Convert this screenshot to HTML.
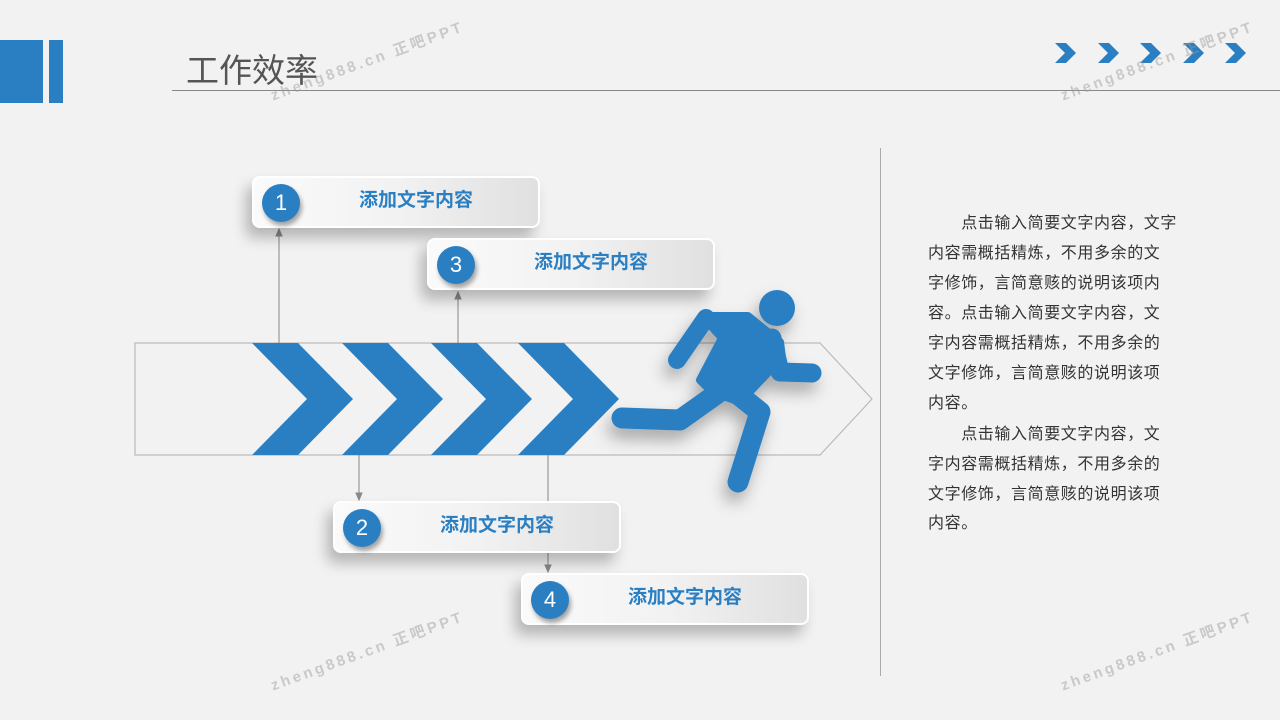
<!DOCTYPE html>
<html><head><meta charset="utf-8"><style>
body{margin:0;width:1280px;height:720px;background:#f2f2f2;position:relative;overflow:hidden;font-family:"Liberation Sans","Noto Sans CJK SC",sans-serif}
.a{position:absolute}
.card{position:absolute;width:288px;height:52px;border-radius:8px;background:linear-gradient(90deg,#fafafa,#f2f2f2 50%,#e0e0e0);border:2px solid #fff;box-shadow:-6px 10px 14px rgba(0,0,0,.25);box-sizing:border-box}
.card .c{position:absolute;left:8px;top:6px;width:38px;height:38px;border-radius:50%;background:#2a7fc3;color:#fff;font-size:22px;line-height:38px;text-align:center;box-shadow:2px 4px 5px rgba(0,0,0,.35)}
.card .t{position:absolute;left:40px;right:0;top:0;line-height:46px;text-align:center;color:#2a7fc3;font-size:19px;font-weight:bold}
.p{position:absolute;left:928px;font-size:16px;letter-spacing:0.6px;color:#333;line-height:30px;white-space:nowrap}
.wm{position:absolute;color:rgba(150,150,150,.45);font-size:15px;letter-spacing:3px;transform:rotate(-20deg);font-weight:bold}
</style></head><body>
<div class="a" style="left:0;top:40px;width:43px;height:63px;background:#2a7fc3"></div>
<div class="a" style="left:49px;top:40px;width:14px;height:63px;background:#2a7fc3"></div>
<div class="a" style="left:186px;top:44px;font-size:33px;color:#555">工作效率</div>
<div class="a" style="left:172px;top:90px;width:1108px;height:1px;background:#888"></div>
<div class="a" style="left:880px;top:148px;width:1px;height:528px;background:#aaa"></div>
<svg class="a" style="left:0;top:0" width="1280" height="720">
<defs><filter id="sh" x="-30%" y="-30%" width="160%" height="160%"><feDropShadow dx="-4" dy="10" stdDeviation="8" flood-opacity=".3"/></filter></defs>
<g fill="#2a7fc3">
<polygon points="1055,43 1066,43 1076,53 1066,63 1055,63 1065,53"/>
<polygon points="1098,43 1109,43 1119,53 1109,63 1098,63 1108,53"/>
<polygon points="1140,43 1151,43 1161,53 1151,63 1140,63 1150,53"/>
<polygon points="1183,43 1194,43 1204,53 1194,63 1183,63 1193,53"/>
<polygon points="1225,43 1236,43 1246,53 1236,63 1225,63 1235,53"/>
</g>
<polygon points="135,343 820,343 872,399 820,455 135,455" fill="none" stroke="#bbb" stroke-width="1.2"/>
<g fill="#2a7fc3">
<polygon points="252,343 298,343 353,399 298,455 252,455 307,399"/>
<polygon points="342,343 388,343 443,399 388,455 342,455 397,399"/>
<polygon points="431,343 477,343 532,399 477,455 431,455 486,399"/>
<polygon points="518,343 564,343 619,399 564,455 518,455 573,399"/>
</g>
<g stroke="#888" stroke-width="1" fill="#888">
<line x1="279" y1="343" x2="279" y2="232"/><polygon points="276,236 279,229 282,236"/>
<line x1="458" y1="343" x2="458" y2="295"/><polygon points="455,299 458,292 461,299"/>
<line x1="359" y1="455" x2="359" y2="496"/><polygon points="356,493 359,500 362,493"/>
<line x1="548" y1="455" x2="548" y2="568"/><polygon points="545,565 548,572 551,565"/>
</g>
<g filter="url(#sh)" stroke="#2a7fc3" fill="#2a7fc3" stroke-linecap="round" stroke-linejoin="round">
<circle cx="777" cy="308" r="18" stroke="none"/>
<polygon points="702,316 748,316 780,342 782,358 740,402 712,392 700,380 722,338" stroke-width="8"/>
<polyline points="706,318 677,360" fill="none" stroke-width="18"/>
<polyline points="772,338 780,372 812,373" fill="none" stroke-width="19"/>
<polyline points="725,388 680,420 622,418" fill="none" stroke-width="21"/>
<polyline points="730,388 760,412 738,482" fill="none" stroke-width="21"/>
</g>
</svg>
<div class="card" style="left:252px;top:176px"><div class="c">1</div><div class="t">添加文字内容</div></div>
<div class="card" style="left:427px;top:238px"><div class="c">3</div><div class="t">添加文字内容</div></div>
<div class="card" style="left:333px;top:501px"><div class="c">2</div><div class="t">添加文字内容</div></div>
<div class="card" style="left:521px;top:573px"><div class="c">4</div><div class="t">添加文字内容</div></div>
<div class="p" style="top:209px">　　点击输入简要文字内容，文字</div>
<div class="p" style="top:239px">内容需概括精炼，不用多余的文</div>
<div class="p" style="top:269px">字修饰，言简意赅的说明该项内</div>
<div class="p" style="top:299px">容。点击输入简要文字内容，文</div>
<div class="p" style="top:329px">字内容需概括精炼，不用多余的</div>
<div class="p" style="top:359px">文字修饰，言简意赅的说明该项</div>
<div class="p" style="top:389px">内容。</div>
<div class="p" style="top:420px">　　点击输入简要文字内容，文</div>
<div class="p" style="top:450px">字内容需概括精炼，不用多余的</div>
<div class="p" style="top:480px">文字修饰，言简意赅的说明该项</div>
<div class="p" style="top:509px">内容。</div>
<div class="wm" style="left:265px;top:50px">zheng888.cn 正吧PPT</div>
<div class="wm" style="left:1055px;top:50px">zheng888.cn 正吧PPT</div>
<div class="wm" style="left:265px;top:640px">zheng888.cn 正吧PPT</div>
<div class="wm" style="left:1055px;top:640px">zheng888.cn 正吧PPT</div>
</body></html>
